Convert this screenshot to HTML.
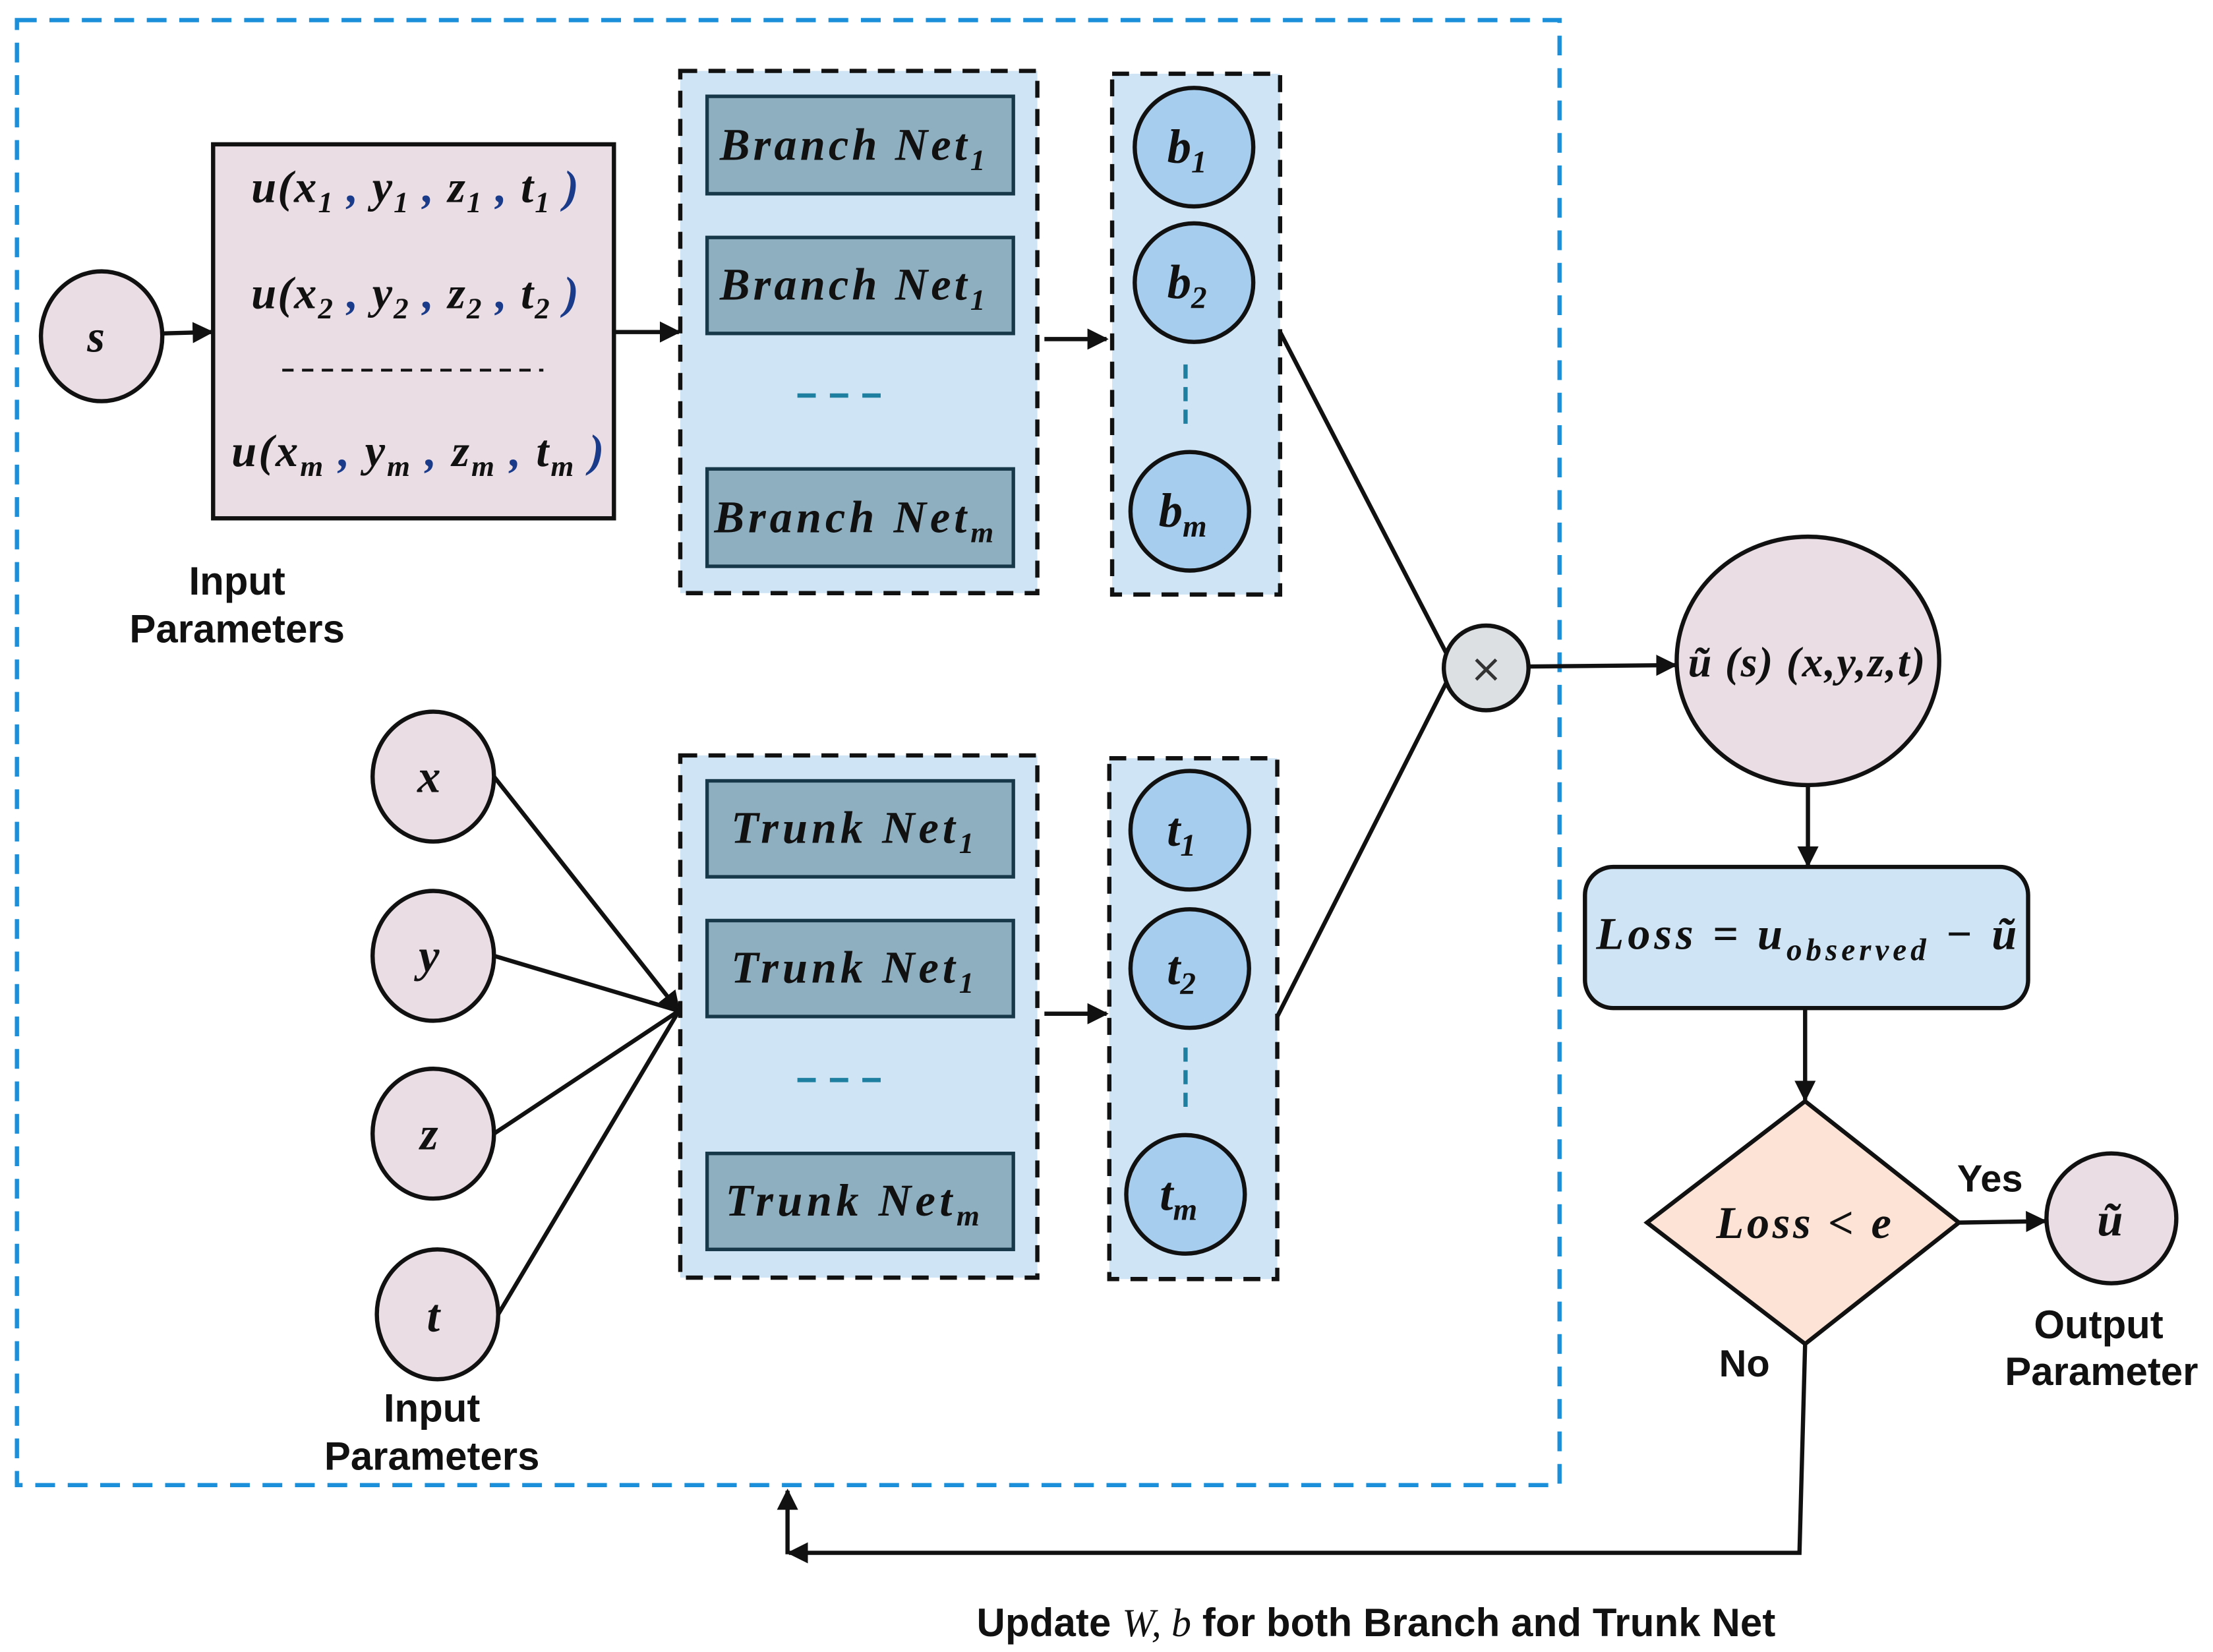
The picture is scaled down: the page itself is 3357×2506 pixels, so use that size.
<!DOCTYPE html>
<html><head><meta charset="utf-8"><style>
html,body{margin:0;padding:0;background:#fff;}
svg{display:block;}
.m{font-family:"Liberation Serif",serif;font-weight:bold;font-style:italic;fill:#111;}
.l{font-family:"Liberation Sans",sans-serif;font-weight:bold;fill:#111;}
</style></head><body>
<svg width="3357" height="2506" viewBox="0 0 1568 1170" xmlns="http://www.w3.org/2000/svg">
<defs>
<marker id="a" viewBox="0 0 10 10" refX="9" refY="5" markerWidth="5" markerHeight="5" orient="auto"><path d="M0,0 L10,5 L0,10 z" fill="#111"/></marker>
</defs>
<rect x="12" y="14" width="1093" height="1038" fill="none" stroke="#1b8fd9" stroke-width="3" stroke-dasharray="14,9"/>

<ellipse cx="72" cy="238" rx="43" ry="46" fill="#eadde4" stroke="#111" stroke-width="3"/>
<text class="m" x="68" y="249" font-size="32" text-anchor="middle">s</text>
<line x1="115" y1="236" x2="150" y2="235" stroke="#111" stroke-width="3" marker-end="url(#a)"/>
<rect x="151" y="102" width="284" height="265" fill="#eadde4" stroke="#111" stroke-width="3"/>
<text class="m" x="178" y="143" font-size="32" textLength="232" lengthAdjust="spacing">u(x<tspan font-size="21" dy="7">1</tspan><tspan dy="-7" fill="#1a3a8a"> ,</tspan> y<tspan font-size="21" dy="7">1</tspan><tspan dy="-7" fill="#1a3a8a"> ,</tspan> z<tspan font-size="21" dy="7">1</tspan><tspan dy="-7" fill="#1a3a8a"> ,</tspan> t<tspan font-size="21" dy="7">1</tspan><tspan dy="-7" fill="#1a3a8a"> )</tspan></text>
<text class="m" x="178" y="218" font-size="32" textLength="232" lengthAdjust="spacing">u(x<tspan font-size="21" dy="7">2</tspan><tspan dy="-7" fill="#1a3a8a"> ,</tspan> y<tspan font-size="21" dy="7">2</tspan><tspan dy="-7" fill="#1a3a8a"> ,</tspan> z<tspan font-size="21" dy="7">2</tspan><tspan dy="-7" fill="#1a3a8a"> ,</tspan> t<tspan font-size="21" dy="7">2</tspan><tspan dy="-7" fill="#1a3a8a"> )</tspan></text>
<line x1="200" y1="262" x2="385" y2="262" stroke="#111" stroke-width="2" stroke-dasharray="8,6"/>
<text class="m" x="164" y="330" font-size="32" textLength="264" lengthAdjust="spacing">u(x<tspan font-size="21" dy="7">m</tspan><tspan dy="-7" fill="#1a3a8a"> ,</tspan> y<tspan font-size="21" dy="7">m</tspan><tspan dy="-7" fill="#1a3a8a"> ,</tspan> z<tspan font-size="21" dy="7">m</tspan><tspan dy="-7" fill="#1a3a8a"> ,</tspan> t<tspan font-size="21" dy="7">m</tspan><tspan dy="-7" fill="#1a3a8a"> )</tspan></text>
<text class="l" x="168" y="421" font-size="28" text-anchor="middle">Input</text>
<text class="l" x="168" y="455" font-size="28" text-anchor="middle">Parameters</text>
<line x1="436" y1="235" x2="481" y2="235" stroke="#111" stroke-width="3" marker-end="url(#a)"/>

<rect x="482" y="50" width="253" height="370" fill="#cfe4f4" stroke="#111" stroke-width="3" stroke-dasharray="12,8"/>
<g fill="#8eafc0" stroke="#173848" stroke-width="2.5">
<rect x="501" y="68" width="217" height="69"/><rect x="501" y="168" width="217" height="68"/><rect x="501" y="332" width="217" height="69"/>
</g>
<text class="m" x="510" y="113" font-size="32" textLength="188" lengthAdjust="spacing">Branch Net<tspan font-size="21" dy="7">1</tspan></text>
<text class="m" x="510" y="212" font-size="32" textLength="188" lengthAdjust="spacing">Branch Net<tspan font-size="21" dy="7">1</tspan></text>
<text class="m" x="506" y="377" font-size="32" textLength="198" lengthAdjust="spacing">Branch Net<tspan font-size="21" dy="7">m</tspan></text>
<line x1="565" y1="280" x2="632" y2="280" stroke="#1e7fa0" stroke-width="3" stroke-dasharray="13,10"/>
<line x1="740" y1="240" x2="784" y2="240" stroke="#111" stroke-width="3" marker-end="url(#a)"/>

<rect x="788" y="52" width="119" height="369" fill="#cfe4f4" stroke="#111" stroke-width="3" stroke-dasharray="12,8"/>
<g fill="#a7cdee" stroke="#111" stroke-width="3">
<circle cx="846" cy="104" r="42"/><circle cx="846" cy="200" r="42"/><circle cx="843" cy="362" r="42"/>
</g>
<text class="m" x="841" y="115" font-size="34" text-anchor="middle">b<tspan font-size="22" dy="7">1</tspan></text>
<text class="m" x="841" y="211" font-size="34" text-anchor="middle">b<tspan font-size="22" dy="7">2</tspan></text>
<text class="m" x="838" y="373" font-size="34" text-anchor="middle">b<tspan font-size="22" dy="7">m</tspan></text>
<line x1="840" y1="258" x2="840" y2="300" stroke="#1e7fa0" stroke-width="3" stroke-dasharray="10,6"/>

<g fill="#eadde4" stroke="#111" stroke-width="3">
<ellipse cx="307" cy="550" rx="43" ry="46"/><ellipse cx="307" cy="677" rx="43" ry="46"/><ellipse cx="307" cy="803" rx="43" ry="46"/><ellipse cx="310" cy="931" rx="43" ry="46"/>
</g>
<text class="m" x="304" y="561" font-size="33" text-anchor="middle">x</text>
<text class="m" x="304" y="688" font-size="33" text-anchor="middle">y</text>
<text class="m" x="304" y="814" font-size="33" text-anchor="middle">z</text>
<text class="m" x="307" y="943" font-size="33" text-anchor="middle">t</text>
<text class="l" x="306" y="1007" font-size="28" text-anchor="middle">Input</text>
<text class="l" x="306" y="1041" font-size="28" text-anchor="middle">Parameters</text>

<rect x="482" y="535" width="253" height="370" fill="#cfe4f4" stroke="#111" stroke-width="3" stroke-dasharray="12,8"/>
<g fill="#8eafc0" stroke="#173848" stroke-width="2.5">
<rect x="501" y="553" width="217" height="68"/><rect x="501" y="652" width="217" height="68"/><rect x="501" y="817" width="217" height="68"/>
</g>
<g stroke="#111" stroke-width="3">
<line x1="350" y1="550" x2="481" y2="716" marker-end="url(#a)"/>
<line x1="350" y1="677" x2="481" y2="716"/>
<line x1="350" y1="803" x2="481" y2="716"/>
<line x1="353" y1="931" x2="481" y2="716"/>
</g>
<text class="m" x="518" y="597" font-size="32" textLength="172" lengthAdjust="spacing">Trunk Net<tspan font-size="21" dy="7">1</tspan></text>
<text class="m" x="518" y="696" font-size="32" textLength="172" lengthAdjust="spacing">Trunk Net<tspan font-size="21" dy="7">1</tspan></text>
<text class="m" x="514" y="861" font-size="32" textLength="180" lengthAdjust="spacing">Trunk Net<tspan font-size="21" dy="7">m</tspan></text>
<line x1="565" y1="765" x2="632" y2="765" stroke="#1e7fa0" stroke-width="3" stroke-dasharray="13,10"/>
<line x1="740" y1="718" x2="784" y2="718" stroke="#111" stroke-width="3" marker-end="url(#a)"/>

<rect x="786" y="537" width="119" height="369" fill="#cfe4f4" stroke="#111" stroke-width="3" stroke-dasharray="12,8"/>
<g fill="#a7cdee" stroke="#111" stroke-width="3">
<circle cx="843" cy="588" r="42"/><circle cx="843" cy="686" r="42"/><circle cx="840" cy="846" r="42"/>
</g>
<text class="m" x="837" y="599" font-size="34" text-anchor="middle">t<tspan font-size="22" dy="7">1</tspan></text>
<text class="m" x="837" y="697" font-size="34" text-anchor="middle">t<tspan font-size="22" dy="7">2</tspan></text>
<text class="m" x="835" y="857" font-size="34" text-anchor="middle">t<tspan font-size="22" dy="7">m</tspan></text>
<line x1="840" y1="742" x2="840" y2="784" stroke="#1e7fa0" stroke-width="3" stroke-dasharray="10,6"/>

<line x1="907" y1="235" x2="1025" y2="463" stroke="#111" stroke-width="3"/>
<line x1="905" y1="720" x2="1025" y2="483" stroke="#111" stroke-width="3"/>
<circle cx="1053" cy="473" r="30" fill="#dde0e3" stroke="#111" stroke-width="3"/>
<text x="1053" y="483" font-family="DejaVu Sans,sans-serif" font-size="28" text-anchor="middle" fill="#333">×</text>
<line x1="1083" y1="472" x2="1187" y2="471" stroke="#111" stroke-width="3" marker-end="url(#a)"/>
<ellipse cx="1281" cy="468" rx="93" ry="88" fill="#eadde4" stroke="#111" stroke-width="3"/>
<text class="m" x="1196" y="479" font-size="30" textLength="168" lengthAdjust="spacing">ũ (s) (x,y,z,t)</text>
<line x1="1281" y1="556" x2="1281" y2="613" stroke="#111" stroke-width="3" marker-end="url(#a)"/>
<rect x="1123" y="614" width="314" height="100" rx="20" fill="#cfe4f4" stroke="#111" stroke-width="3"/>
<text class="m" x="1131" y="672" font-size="32" textLength="298" lengthAdjust="spacing">Loss = u<tspan font-size="22" dy="8">observed</tspan><tspan dy="-8"> − ũ</tspan></text>
<line x1="1279" y1="714" x2="1279" y2="779" stroke="#111" stroke-width="3" marker-end="url(#a)"/>
<polygon points="1279,780 1388,866 1279,952 1167,866" fill="#fde3d6" stroke="#111" stroke-width="3"/>
<text class="m" x="1216" y="877" font-size="32" textLength="124" lengthAdjust="spacing">Loss &lt; e</text>
<line x1="1388" y1="866" x2="1449" y2="865" stroke="#111" stroke-width="3" marker-end="url(#a)"/>
<text class="l" x="1410" y="844" font-size="27" text-anchor="middle">Yes</text>
<ellipse cx="1496" cy="863" rx="46" ry="46" fill="#eadde4" stroke="#111" stroke-width="3"/>
<text class="m" x="1495" y="875" font-size="33" text-anchor="middle">ũ</text>
<text class="l" x="1487" y="948" font-size="28" text-anchor="middle">Output</text>
<text class="l" x="1489" y="981" font-size="28" text-anchor="middle">Parameter</text>
<text class="l" x="1236" y="975" font-size="27" text-anchor="middle">No</text>

<polyline points="1279,952 1275,1100 559,1100" fill="none" stroke="#111" stroke-width="3" marker-end="url(#a)"/>
<line x1="558" y1="1101" x2="558" y2="1056" stroke="#111" stroke-width="3" marker-end="url(#a)"/>
<text class="l" x="692" y="1159" font-size="28" textLength="566" lengthAdjust="spacing">Update <tspan font-family="Liberation Serif,serif" font-style="italic" font-weight="normal">W, b</tspan> for both Branch and Trunk Net</text>
</svg>
</body></html>
